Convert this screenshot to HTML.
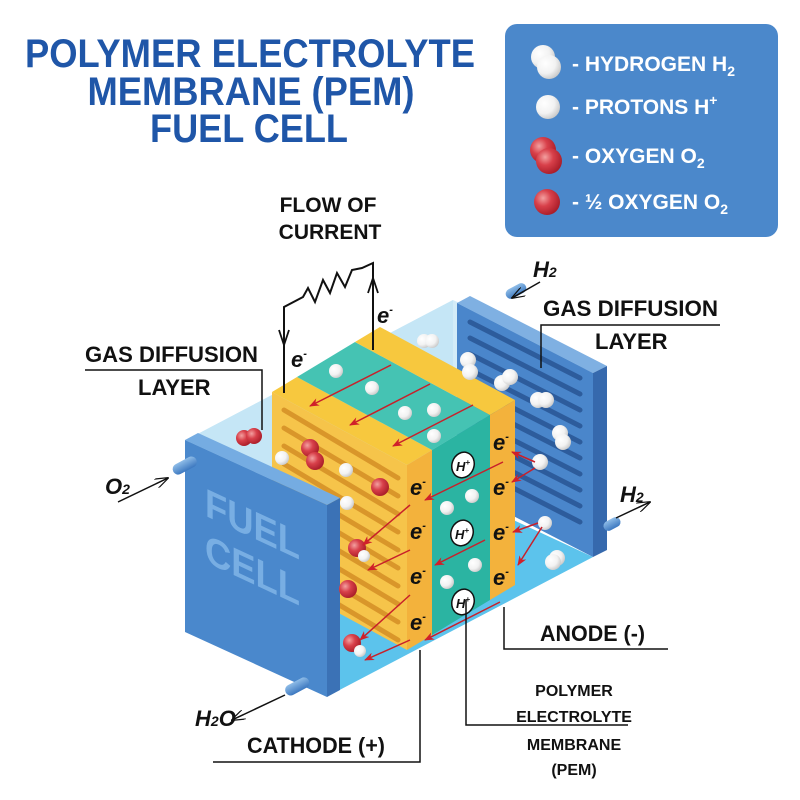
<!DOCTYPE html>
<html><head><meta charset="utf-8"><style>
html,body{margin:0;padding:0;background:#fff;}
svg{display:block}
text{font-family:"Liberation Sans",sans-serif;font-weight:bold}
</style></head><body>
<svg width="800" height="800" viewBox="0 0 800 800" xmlns="http://www.w3.org/2000/svg">
<defs>
<radialGradient id="wb" cx="0.35" cy="0.35" r="0.7"><stop offset="0" stop-color="#ffffff"/><stop offset="0.6" stop-color="#f2f2f2"/><stop offset="1" stop-color="#c9c9c9"/></radialGradient>
<radialGradient id="rb" cx="0.35" cy="0.35" r="0.7"><stop offset="0" stop-color="#f3a0a0"/><stop offset="0.45" stop-color="#d8404a"/><stop offset="1" stop-color="#a81c28"/></radialGradient>
<linearGradient id="pipe" x1="0" y1="0" x2="0" y2="1"><stop offset="0" stop-color="#8fbde8"/><stop offset="1" stop-color="#3c78c0"/></linearGradient>
<clipPath id="sideclip"><polygon points="272,392 407,465 407,650 272,577"/></clipPath>
<clipPath id="rpclip"><polygon points="457,303 593,373 593,557 457,487"/></clipPath>
<marker id="ra" markerWidth="10" markerHeight="8" refX="9" refY="4" orient="auto" markerUnits="userSpaceOnUse"><path d="M0,0 L10,4 L0,8 L3,4 Z" fill="#d0202a"/></marker>
<marker id="ka" markerWidth="14" markerHeight="10" refX="13" refY="5" orient="auto" markerUnits="userSpaceOnUse"><path d="M0,0 L14,5 L0,10 M0,5 L14,5" fill="none" stroke="#111" stroke-width="1.2"/></marker>
</defs>

<g fill="#1f56a8" text-anchor="middle" font-size="40">
<text x="250" y="67" textLength="450" lengthAdjust="spacingAndGlyphs">POLYMER ELECTROLYTE</text>
<text x="251" y="105" textLength="327" lengthAdjust="spacingAndGlyphs">MEMBRANE (PEM)</text>
<text x="249" y="142" textLength="198" lengthAdjust="spacingAndGlyphs">FUEL CELL</text>
</g>

<rect x="505" y="24" width="273" height="213" rx="12" fill="#4b88cb"/>
<g fill="#fff" font-size="21">
<text x="572" y="71">-  HYDROGEN  H<tspan font-size="14" dy="5">2</tspan></text>
<text x="572" y="114">-  PROTONS  H<tspan font-size="14" dy="-9">+</tspan></text>
<text x="572" y="163">-  OXYGEN  O<tspan font-size="14" dy="5">2</tspan></text>
<text x="572" y="209">-  ½ OXYGEN  O<tspan font-size="14" dy="5">2</tspan></text>
</g>
<circle cx="543" cy="57" r="12" fill="url(#wb)"/><circle cx="549" cy="67" r="12" fill="url(#wb)"/>
<circle cx="548" cy="107" r="12" fill="url(#wb)"/>
<circle cx="543" cy="150" r="13" fill="url(#rb)"/><circle cx="549" cy="161" r="13" fill="url(#rb)"/>
<circle cx="547" cy="202" r="13" fill="url(#rb)"/>

<polygon points="190,438 330,503 593,365 453,300" fill="#d3ecf8"/>
<polygon points="190,630 330,695 593,557 453,492" fill="#5cc3ec"/>
<polygon points="190,438 453,300 453,492 190,630" fill="#c5e6f6"/>

<polygon points="457,303 470,296 607,366 593,373" fill="#7fb0e2"/>
<polygon points="593,373 607,366 607,550 593,557" fill="#3669ad"/>
<polygon points="457,303 593,373 593,557 457,487" fill="#4a86cb"/>
<g clip-path="url(#rpclip)" stroke="#2d5c9c" stroke-width="5" stroke-linecap="round" fill="none">
<path d="M470,322 L580,378 M470,338 L580,394 M470,354 L580,410 M470,370 L580,426 M470,386 L580,442 M470,402 L580,458 M470,418 L580,474 M470,434 L580,490 M470,450 L580,506 M470,466 L580,522"/>
</g>
<g fill="url(#pipe)"><rect x="505" y="286" width="22" height="10" rx="5" transform="rotate(-28 516 291)"/>
<rect x="603" y="519" width="18" height="10" rx="5" transform="rotate(-28 612 524)"/></g>

<polygon points="272,392 297,377 432,450 407,465" fill="#f7c83e"/>
<polygon points="297,377 355,342 490,415 432,450" fill="#45c3b3"/>
<polygon points="355,342 380,327 515,400 490,415" fill="#f7c83e"/>
<polygon points="272,392 407,465 407,650 272,577" fill="#f6c44a"/>
<g clip-path="url(#sideclip)" stroke="#d9962a" stroke-width="5" fill="none" stroke-linecap="round">
<path d="M284,410 L398,478 M284,428 L398,496 M284,446 L398,514 M284,464 L398,532 M284,482 L398,550 M284,500 L398,568 M284,518 L398,586 M284,536 L398,604 M284,554 L398,622 M284,572 L398,640"/>
</g>
<polygon points="407,465 432,450 432,635 407,650" fill="#f3b23c"/>
<polygon points="432,450 490,415 490,600 432,635" fill="#2bb4a2"/>
<polygon points="490,415 515,400 515,585 490,600" fill="#f3b23c"/>

<polygon points="185,440 198,433 340,498 327,505" fill="#75ace2"/>
<polygon points="327,505 340,498 340,690 327,697" fill="#3b72b6"/>
<polygon points="185,440 327,505 327,697 185,632" fill="#4a88cc"/>
<g fill="#78aee3" font-size="40" transform="skewY(25)">
<text x="205" y="420" textLength="95" lengthAdjust="spacingAndGlyphs">FUEL</text>
<text x="205" y="466" textLength="95" lengthAdjust="spacingAndGlyphs">CELL</text>
</g>
<g fill="url(#pipe)"><rect x="172" y="460" width="26" height="11" rx="5.5" transform="rotate(-28 185 466)"/>
<rect x="284" y="681" width="26" height="11" rx="5.5" transform="rotate(-28 297 686)"/></g>

<g>
<circle cx="336" cy="371" r="7" fill="url(#wb)"/><circle cx="372" cy="388" r="7" fill="url(#wb)"/>
<circle cx="405" cy="413" r="7" fill="url(#wb)"/><circle cx="434" cy="410" r="7" fill="url(#wb)"/>
<circle cx="434" cy="436" r="7" fill="url(#wb)"/>
<circle cx="424" cy="341" r="7" fill="url(#wb)"/><circle cx="432" cy="341" r="7" fill="url(#wb)"/>
<circle cx="468" cy="360" r="8" fill="url(#wb)"/><circle cx="470" cy="372" r="8" fill="url(#wb)"/>
<circle cx="502" cy="383" r="8" fill="url(#wb)"/><circle cx="510" cy="377" r="8" fill="url(#wb)"/>
<circle cx="538" cy="400" r="8" fill="url(#wb)"/><circle cx="546" cy="400" r="8" fill="url(#wb)"/>
<circle cx="560" cy="433" r="8" fill="url(#wb)"/><circle cx="563" cy="442" r="8" fill="url(#wb)"/>
<circle cx="540" cy="462" r="8" fill="url(#wb)"/><circle cx="545" cy="523" r="7" fill="url(#wb)"/>
<circle cx="557" cy="558" r="8" fill="url(#wb)"/><circle cx="553" cy="562" r="8" fill="url(#wb)"/>
<circle cx="244" cy="438" r="8" fill="url(#rb)"/><circle cx="254" cy="436" r="8" fill="url(#rb)"/>
<circle cx="310" cy="448" r="9" fill="url(#rb)"/><circle cx="315" cy="461" r="9" fill="url(#rb)"/>
<circle cx="282" cy="458" r="7" fill="url(#wb)"/><circle cx="346" cy="470" r="7" fill="url(#wb)"/>
<circle cx="380" cy="487" r="9" fill="url(#rb)"/><circle cx="347" cy="503" r="7" fill="url(#wb)"/>
<circle cx="357" cy="548" r="9" fill="url(#rb)"/><circle cx="364" cy="556" r="6" fill="url(#wb)"/>
<circle cx="348" cy="589" r="9" fill="url(#rb)"/>
<circle cx="352" cy="643" r="9" fill="url(#rb)"/><circle cx="360" cy="651" r="6" fill="url(#wb)"/>
<circle cx="447" cy="508" r="7" fill="url(#wb)"/><circle cx="472" cy="496" r="7" fill="url(#wb)"/>
<circle cx="447" cy="582" r="7" fill="url(#wb)"/><circle cx="475" cy="565" r="7" fill="url(#wb)"/>
</g>
<g stroke="#c8202a" stroke-width="1.5" marker-end="url(#ra)">
<line x1="391" y1="365" x2="310" y2="406"/><line x1="430" y1="384" x2="350" y2="425"/>
<line x1="473" y1="405" x2="393" y2="446"/>
<line x1="503" y1="462" x2="425" y2="500"/><line x1="485" y1="540" x2="435" y2="565"/>
<line x1="500" y1="602" x2="425" y2="640"/>
<line x1="410" y1="505" x2="363" y2="545"/><line x1="410" y1="550" x2="368" y2="570"/>
<line x1="410" y1="595" x2="360" y2="640"/><line x1="410" y1="640" x2="365" y2="660"/>
<line x1="535" y1="462" x2="512" y2="452"/><line x1="535" y1="468" x2="512" y2="482"/>
<line x1="538" y1="523" x2="513" y2="532"/><line x1="542" y1="527" x2="518" y2="565"/>
</g>
<g font-size="22" font-style="italic" fill="#111">
<text x="410" y="495">e<tspan font-size="11" dy="-10">-</tspan></text>
<text x="410" y="539">e<tspan font-size="11" dy="-10">-</tspan></text>
<text x="410" y="584">e<tspan font-size="11" dy="-10">-</tspan></text>
<text x="410" y="630">e<tspan font-size="11" dy="-10">-</tspan></text>
<text x="493" y="450">e<tspan font-size="11" dy="-10">-</tspan></text>
<text x="493" y="495">e<tspan font-size="11" dy="-10">-</tspan></text>
<text x="493" y="540">e<tspan font-size="11" dy="-10">-</tspan></text>
<text x="493" y="585">e<tspan font-size="11" dy="-10">-</tspan></text>
</g>
<g stroke="#111" stroke-width="1.5" fill="#fff">
<ellipse cx="463" cy="465" rx="11" ry="13" transform="rotate(20 463 465)"/>
<ellipse cx="462" cy="533" rx="11" ry="13" transform="rotate(20 462 533)"/>
<ellipse cx="463" cy="602" rx="11" ry="13" transform="rotate(20 463 602)"/>
</g>
<g font-size="13" font-style="italic" fill="#111">
<text x="456" y="471">H<tspan font-size="8" dy="-6">+</tspan></text>
<text x="455" y="539">H<tspan font-size="8" dy="-6">+</tspan></text>
<text x="456" y="608">H<tspan font-size="8" dy="-6">+</tspan></text>
</g>

<g fill="none" stroke="#111" stroke-width="2">
<polyline points="284,393 284,307 303,297 308,288 315,302 323,280 330,293 337,273 345,287 352,270 362,268 373,263 373,350"/>
</g>
<path d="M279,330 L284,345 L289,330 M368,293 L373,278 L378,293" fill="none" stroke="#111" stroke-width="1.8"/>
<g font-size="22" font-style="italic" fill="#111">
<text x="377" y="323">e<tspan font-size="11" dy="-10">-</tspan></text>
<text x="291" y="367">e<tspan font-size="11" dy="-10">-</tspan></text>
</g>
<g font-size="21" fill="#111" text-anchor="middle">
<text x="328" y="212">FLOW OF</text><text x="330" y="239">CURRENT</text>
</g>

<g fill="#111" font-size="22">
<text x="85" y="362" textLength="173" lengthAdjust="spacingAndGlyphs">GAS DIFFUSION</text><text x="138" y="395">LAYER</text>
<text x="543" y="316" textLength="175" lengthAdjust="spacingAndGlyphs">GAS DIFFUSION</text><text x="595" y="349">LAYER</text>
<text x="540" y="641" textLength="105" lengthAdjust="spacingAndGlyphs">ANODE (-)</text>
<text x="247" y="753" textLength="138" lengthAdjust="spacingAndGlyphs">CATHODE (+)</text>
</g>
<g fill="#111" font-size="16" text-anchor="middle">
<text x="574" y="696">POLYMER</text><text x="574" y="722">ELECTROLYTE</text>
<text x="574" y="750">MEMBRANE</text><text x="574" y="775">(PEM)</text>
</g>
<g fill="none" stroke="#111" stroke-width="1.5">
<polyline points="85,370 262,370 262,430"/>
<polyline points="541,368 541,325 720,325"/>
<polyline points="504,607 504,649 668,649"/>
<polyline points="466,600 466,725 628,725"/>
<polyline points="420,650 420,762 213,762"/>
</g>
<g stroke="#111" stroke-width="1.5" marker-end="url(#ka)">
<line x1="118" y1="502" x2="168" y2="478"/>
<line x1="540" y1="282" x2="512" y2="298"/>
<line x1="616" y1="518" x2="650" y2="502"/>
<line x1="285" y1="695" x2="232" y2="720"/>
</g>
<g fill="#111" font-size="22" font-style="italic">
<text x="105" y="494">O<tspan font-size="14">2</tspan></text>
<text x="533" y="277">H<tspan font-size="14">2</tspan></text>
<text x="620" y="502">H<tspan font-size="14">2</tspan></text>
<text x="195" y="726">H<tspan font-size="14">2</tspan>O</text>
</g>
</svg>
</body></html>
